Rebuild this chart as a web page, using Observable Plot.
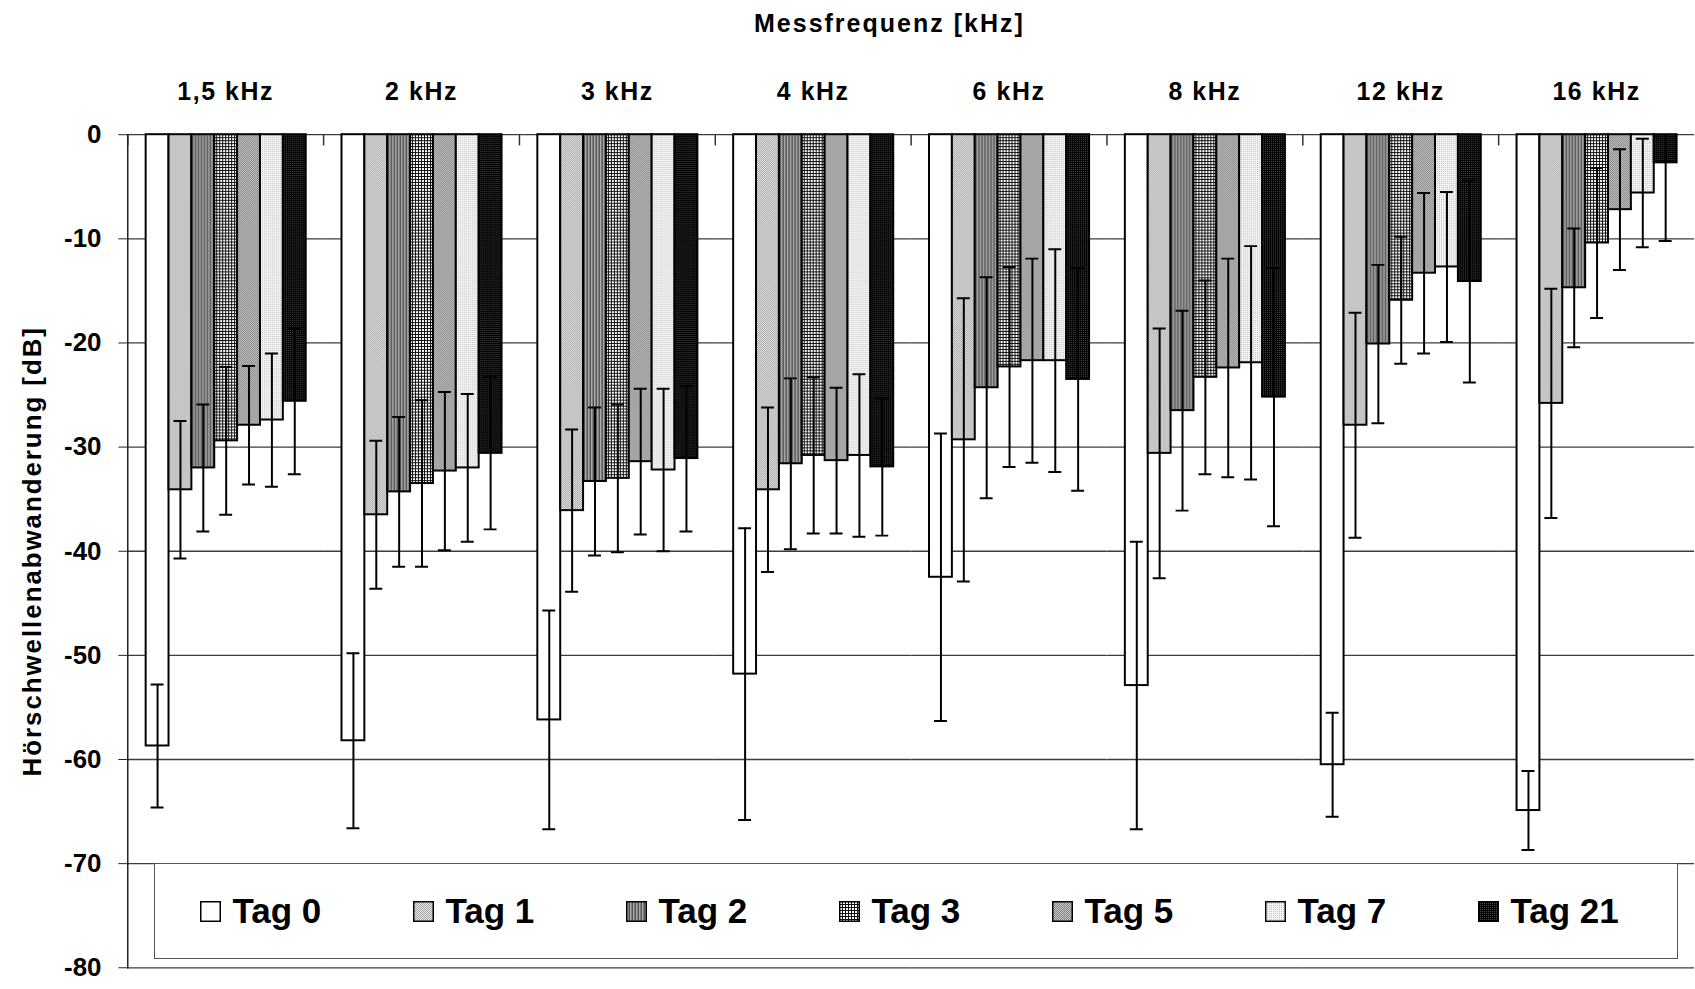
<!DOCTYPE html>
<html>
<head>
<meta charset="utf-8">
<script src="https://cdn.jsdelivr.net/npm/d3@7"></script>
<script src="https://cdn.jsdelivr.net/npm/@observablehq/plot@0.6"></script>
<style>
  html, body { margin: 0; padding: 0; background: #fff; overflow: hidden; }
  #chart {
    position: relative; width: 1695px; height: 989px; overflow: hidden;
    font-family: "Liberation Sans", Arial, sans-serif; font-weight: bold; color: #000;
  }
  #title {
    position: absolute; left: 754px; top: 11px; font-size: 25px; line-height: 25px;
    letter-spacing: 2px; white-space: nowrap;
  }
  #legend {
    position: absolute; left: 154px; top: 863px; width: 1524px; height: 96px;
    box-sizing: border-box; border: 1.5px solid #555; background: #fff;
    display: flex; align-items: center; padding-left: 44.5px;
  }
  .item { width: 213px; flex: none; display: flex; align-items: center; font-size: 35px; }
  .item svg { margin-right: 12px; flex: none; }
  g[aria-label="fx-axis tick label"] text { letter-spacing: 1.6px; }
  g[aria-label="y-axis label"] text { letter-spacing: 2px; }
</style>
</head>
<body>
<div id="chart">
  <svg width="0" height="0" style="position:absolute">
    <defs>
      <pattern id="pat0" width="2" height="2" patternUnits="userSpaceOnUse">
        <rect width="2" height="2" fill="#ffffff"/>
      </pattern>
      <pattern id="pat1" width="2" height="2" patternUnits="userSpaceOnUse">
        <rect width="2" height="2" fill="#e6e6e6"/>
        <rect x="0" y="0" width="1" height="1" fill="#a4a4a4"/>
        <rect x="1" y="1" width="1" height="1" fill="#a4a4a4"/>
      </pattern>
      <pattern id="pat2" width="3" height="1" patternUnits="userSpaceOnUse">
        <rect x="0" width="1" height="1" fill="#555555"/>
        <rect x="1" width="1" height="1" fill="#ababab"/>
        <rect x="2" width="1" height="1" fill="#7e7e7e"/>
      </pattern>
      <pattern id="pat3" width="3" height="3" patternUnits="userSpaceOnUse">
        <rect width="3" height="3" fill="#ffffff"/>
        <rect x="0" y="0" width="3" height="1" fill="#111111"/>
        <rect x="0" y="0" width="1" height="3" fill="#111111"/>
      </pattern>
      <pattern id="pat4" width="2" height="2" patternUnits="userSpaceOnUse">
        <rect width="2" height="2" fill="#c6c6c6"/>
        <rect x="0" y="0" width="1" height="1" fill="#848484"/>
        <rect x="1" y="1" width="1" height="1" fill="#848484"/>
      </pattern>
      <pattern id="pat5" width="2" height="2" patternUnits="userSpaceOnUse">
        <rect width="2" height="2" fill="#f4f4f4"/>
        <rect x="0" y="0" width="1" height="1" fill="#c2c2c2"/>
      </pattern>
      <pattern id="pat6" width="2" height="2" patternUnits="userSpaceOnUse">
        <rect width="2" height="2" fill="#000000"/>
        <rect x="0" y="0" width="1" height="1" fill="#4a4a4a"/>
      </pattern>
    </defs>
  </svg>
  <div id="plot"></div>
  <div id="title">Messfrequenz [kHz]</div>
  <div id="legend"></div>
</div>
<script>
// Measuring frequencies (facets) and days after noise exposure (series)
const freqs = ["1,5 kHz", "2 kHz", "3 kHz", "4 kHz", "6 kHz", "8 kHz", "12 kHz", "16 kHz"];
const days = ["Tag 0", "Tag 1", "Tag 2", "Tag 3", "Tag 5", "Tag 7", "Tag 21"];

// Mean threshold shift in dB, one value per frequency
const tag0 = [-58.7, -58.2, -56.2, -51.8, -42.5, -52.9, -60.5, -64.9];
const tag1 = [-34.1, -36.5, -36.1, -34.1, -29.3, -30.6, -27.9, -25.8];
const tag2 = [-32.0, -34.3, -33.3, -31.6, -24.3, -26.5, -20.1, -14.7];
const tag3 = [-29.4, -33.5, -33.0, -30.8, -22.3, -23.3, -15.9, -10.4];
const tag5 = [-27.9, -32.3, -31.4, -31.3, -21.7, -22.4, -13.3, -7.2];
const tag7 = [-27.4, -32.0, -32.2, -30.8, -21.7, -21.9, -12.7, -5.6];
const tag21 = [-25.6, -30.6, -31.1, -31.9, -23.5, -25.2, -14.1, -2.7];

// Standard deviations in dB, one value per frequency
const sd0 = [5.9, 8.4, 10.5, 14.0, 13.8, 13.8, 5.0, 3.8];
const sd1 = [6.6, 7.1, 7.8, 7.9, 13.6, 12.0, 10.8, 11.0];
const sd2 = [6.1, 7.2, 7.1, 8.2, 10.6, 9.6, 7.6, 5.7];
const sd3 = [7.1, 8.0, 7.1, 7.5, 9.6, 9.3, 6.1, 7.2];
const sd5 = [5.7, 7.6, 7.0, 7.0, 9.8, 10.5, 7.7, 5.8];
const sd7 = [6.4, 7.1, 7.8, 7.8, 10.7, 11.2, 7.2, 5.2];
const sd21 = [7.0, 7.3, 7.0, 6.6, 10.7, 12.4, 9.7, 7.5];

// Value axis ticks
const yTicks = [0, -10, -20, -30, -40, -50, -60, -70, -80];

const means = [tag0, tag1, tag2, tag3, tag5, tag7, tag21];
const sds = [sd0, sd1, sd2, sd3, sd5, sd7, sd21];
const fills = days.map((d, i) => `url(#pat${i})`);

const rows = freqs.flatMap((freq, i) =>
  days.map((day, j) => ({freq, day, mean: means[j][i], sd: sds[j][i]}))
);

const chart = Plot.plot({
  width: 1705,
  height: 989,
  marginTop: 135,
  marginBottom: 16,
  marginLeft: 126.5,
  marginRight: 0,
  style: {
    fontFamily: "'Liberation Sans', Arial, sans-serif",
    fontWeight: "bold",
    color: "#000",
    background: "transparent",
    overflow: "visible"
  },
  fx: {domain: freqs, padding: 0},
  x: {domain: days, paddingInner: 0, paddingOuter: 0.7, axis: null},
  y: {domain: [-80, 0]},
  color: {domain: days, range: fills},
  marks: [
    Plot.gridY(yTicks, {stroke: "#3c3c3c", strokeOpacity: 1, strokeWidth: 1.3}),
    Plot.barY(rows, {fx: "freq", x: "day", y: "mean", fill: "day", stroke: "#000", strokeWidth: 2}),
    // short category ticks at each frequency group boundary
    Plot.frame({anchor: "left", insetBottom: 828, stroke: "#333", strokeWidth: 1.5}),
    // value axis line
    Plot.frame({anchor: "left", facetAnchor: "left", stroke: "#222", strokeWidth: 1.5}),
    Plot.ruleX(rows, {fx: "freq", x: "day", y1: d => d.mean - d.sd, y2: d => d.mean + d.sd,
      stroke: "#000", strokeWidth: 2, clip: true}),
    Plot.tickY(rows, {fx: "freq", x: "day", y: d => d.mean - d.sd, insetLeft: 5, insetRight: 5,
      stroke: "#000", strokeWidth: 2, clip: true}),
    Plot.tickY(rows, {fx: "freq", x: "day", y: d => d.mean + d.sd, insetLeft: 5, insetRight: 5,
      stroke: "#000", strokeWidth: 2, clip: true}),
    Plot.axisFx({anchor: "top", tickSize: 0, tickPadding: 35, fontSize: 25, label: null}),
    Plot.axisY({
      ticks: yTicks, tickSize: 9, tickPadding: 17.5, tickFormat: d => String(d),
      fontSize: 26, stroke: "#222", label: "Hörschwellenabwanderung [dB]",
      labelAnchor: "center", labelOffset: 105.5, labelArrow: "none"
    })
  ]
});
document.getElementById("plot").appendChild(chart);

// Legend boxed over the lower part of the plot
const legend = document.getElementById("legend");
days.forEach((d, i) => {
  const item = document.createElement("div");
  item.className = "item";
  item.innerHTML = `<svg width="21" height="21"><rect x="0.75" y="0.75" width="19.5" height="19.5" fill="${fills[i]}" stroke="#000" stroke-width="1.5"/></svg><span>${d}</span>`;
  legend.appendChild(item);
});
</script>
</body>
</html>
